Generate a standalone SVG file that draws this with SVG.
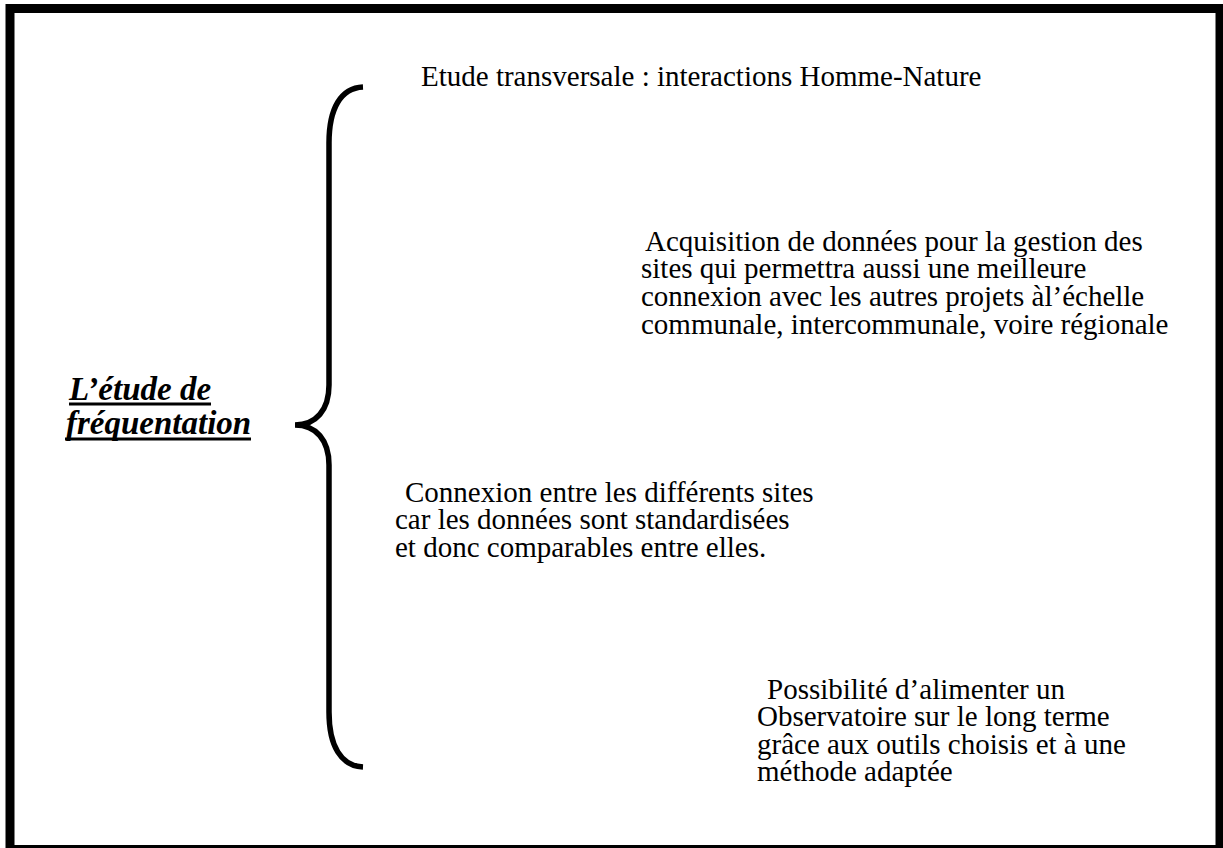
<svg xmlns="http://www.w3.org/2000/svg" width="1223" height="848" viewBox="0 0 1223 848">
<style>
.frame{fill:#fff;stroke:#000;stroke-width:9}
.brace{fill:none;stroke:#000;stroke-width:5.5;stroke-linecap:butt}
.t{font-family:"Liberation Serif","Times New Roman",serif;font-size:29px;fill:#000}
.title{font-family:"Liberation Serif","Times New Roman",serif;font-size:33px;font-weight:bold;font-style:italic;fill:#000}
.ul{stroke:#000;stroke-width:3}
</style>
<rect width="1223" height="848" fill="#fff"/>
<rect class="frame" x="10" y="8.5" width="1210" height="841"/>
<g id="title">
<text class="title"><tspan x="69" y="400">L’étude de</tspan><tspan x="66" y="434">fréquentation</tspan></text>
<line class="ul" x1="69" y1="404" x2="211" y2="404"/>
<line class="ul" x1="65" y1="439" x2="251" y2="439"/>
</g>
<g id="connectors">
<path class="brace" d="M363,87 C341,88 329,108 329,143 L329,385 C329,410 316,425 295,425 C316,425 329,440 329,465 L329,712 C329,746 341,766 363,767"/>
</g>
<g id="item1">
<text class="t" x="421" y="86">Etude transversale : interactions Homme-Nature</text>
</g>
<g id="item2">
<text class="t"><tspan x="645" y="251">Acquisition de données pour la gestion des</tspan><tspan x="641" y="278">sites qui permettra aussi une meilleure</tspan><tspan x="641" y="306">connexion avec les autres projets  àl’échelle</tspan><tspan x="641" y="334">communale, intercommunale, voire régionale</tspan></text>
</g>
<g id="item3">
<text class="t"><tspan x="405" y="502">Connexion entre les différents sites</tspan><tspan x="395" y="529">car les données sont standardisées</tspan><tspan x="395" y="557">et donc comparables entre elles.</tspan></text>
</g>
<g id="item4">
<text class="t"><tspan x="767" y="699">Possibilité d’alimenter un</tspan><tspan x="757" y="726">Observatoire sur le long terme</tspan><tspan x="757" y="754">grâce aux outils choisis et à une</tspan><tspan x="757" y="781">méthode adaptée</tspan></text>
</g>
</svg>
